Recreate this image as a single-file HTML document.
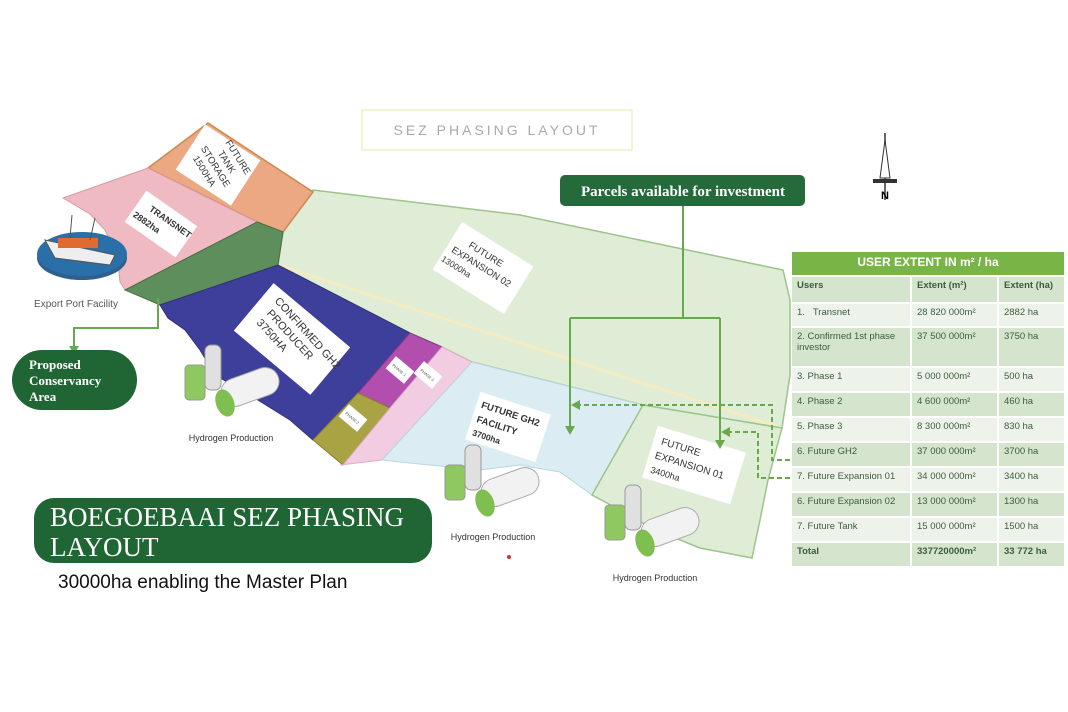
<!DOCTYPE html>
<html><head><meta charset="utf-8"><style>
body{margin:0;width:1068px;height:712px;background:#fff;overflow:hidden;font-family:"Liberation Sans",sans-serif}
svg{position:absolute;left:0;top:0}
table{position:absolute;left:790px;top:250px;width:276px;border-collapse:separate;border-spacing:2px;font-size:9.5px;color:#3d5c3d}
td{padding:3px 5px;vertical-align:top}
</style></head><body>
<svg width="1068" height="712" viewBox="0 0 1068 712">
<polygon points="313,190 520,215 783,270 790,300 790,375 782,428 643,405 472,362 442,347 410,333 278,265 283,232" fill="#dfedd6" stroke="#9cc48c" stroke-width="1.5"/>
<line x1="278" y1="265" x2="782" y2="428" stroke="#f4ecc0" stroke-width="3"/>
<polygon points="208,123 313,192 283,232 257,222 148,168" fill="#eba883" stroke="#c98a50" stroke-width="1.5"/>
<polygon points="63,198 148,168 257,222 125,290 120,282 118,262 112,245 105,230 90,214" fill="#f0bac2" stroke="#d89aa5" stroke-width="1"/>
<polygon points="257,222 283,232 278,265 160,305 125,290" fill="#5e8e5c" stroke="#486e46"/>
<polygon points="160,305 278,265 410,333 358,393 313,440 290,420 250,395 215,375 200,350 185,330 168,318" fill="#3e3f9b" stroke="#30307a"/>
<polygon points="410,333 442,347 390,408 358,393" fill="#b24ead" stroke="#8a3a88"/>
<polygon points="358,393 390,408 343,465 313,440" fill="#a9a344" stroke="#85802f"/>
<polygon points="442,347 472,362 382,460 340,465 343,465 390,408" fill="#f2cde2" stroke="#dcaccb"/>
<polygon points="472,362 643,405 592,495 560,472 520,465 480,470 440,466 400,462 382,460" fill="#dbecf2" stroke="#b8d6e0"/>
<polygon points="643,405 782,428 768,480 760,520 752,558 700,548 655,530 620,510 592,495" fill="#dfedd6" stroke="#9cc48c" stroke-width="1.5"/>
<g transform="translate(218,165) rotate(33)"><rect x="-33" y="-27" width="66" height="54" fill="#fff"/>
<text font-size="9.5" fill="#333" text-anchor="middle" transform="rotate(25)"><tspan x="4" y="-18">FUTURE</tspan><tspan x="2" y="-6">TANK</tspan><tspan x="0" y="6">STORAGE</tspan><tspan x="-2" y="18">1500HA</tspan></text></g>
<g transform="translate(161,224) rotate(35)"><rect x="-31" y="-19" width="62" height="38" fill="#fff"/>
<text font-size="9" font-weight="bold" fill="#333"><tspan x="-18" y="-4">TRANSNET</tspan><tspan x="-28" y="10">2882ha</tspan></text></g>
<g transform="translate(292,339) rotate(40)"><rect x="-50" y="-31" width="100" height="62" fill="#fff"/>
<text font-size="11" fill="#333" transform="rotate(8)"><tspan x="-40" y="-12">CONFIRMED GH2</tspan><tspan x="-36" y="2">PRODUCER</tspan><tspan x="-36" y="16">3750HA</tspan></text></g>
<g transform="translate(483,268) rotate(32)"><rect x="-42" y="-28" width="84" height="56" fill="#fff"/>
<text font-size="9.5" fill="#333"><tspan x="-24" y="-10">FUTURE</tspan><tspan x="-36" y="3">EXPANSION 02</tspan><tspan x="-40" y="16" font-size="8.5">13000ha</tspan></text></g>
<g transform="translate(508,427) rotate(18)"><rect x="-37" y="-25" width="74" height="50" fill="#fff"/>
<text font-size="9.5" font-weight="bold" fill="#333"><tspan x="-32" y="-10">FUTURE GH2</tspan><tspan x="-32" y="5">FACILITY</tspan><tspan x="-32" y="19" font-size="8.5">3700ha</tspan></text></g>
<g transform="translate(694,465) rotate(17)"><rect x="-46" y="-27" width="92" height="54" fill="#fff"/>
<text font-size="10" fill="#333"><tspan x="-38" y="-10">FUTURE</tspan><tspan x="-40" y="5">EXPANSION 01</tspan><tspan x="-40" y="20" font-size="9">3400ha</tspan></text></g>
<g transform="translate(400,370) rotate(40)"><rect x="-12" y="-8" width="24" height="16" fill="#fff"/><text x="-9" y="2" font-size="4" fill="#555">PHASE 1</text></g>
<g transform="translate(428,375) rotate(40)"><rect x="-12" y="-8" width="24" height="16" fill="#fff"/><text x="-9" y="2" font-size="4" fill="#555">PHASE 3</text></g>
<g transform="translate(353,418) rotate(40)"><rect x="-12" y="-8" width="24" height="16" fill="#fff"/><text x="-9" y="2" font-size="4" fill="#555">PHASE 2</text></g>
<rect x="362" y="110" width="270" height="40" fill="#fff" stroke="#f0efc8" stroke-width="1.5"/>
<text x="497" y="135" font-size="14" fill="#aaa" text-anchor="middle" letter-spacing="3">SEZ PHASING LAYOUT</text>
<line x1="885" y1="133" x2="885" y2="200" stroke="#333" stroke-width="1.5"/>
<polygon points="885,140 880,178 890,178" fill="#fff" stroke="#333"/>
<rect x="873" y="179" width="24" height="4" fill="#333"/>
<text x="885" y="199" font-size="11" font-weight="bold" text-anchor="middle">N</text>
<rect x="560" y="175" width="245" height="31" rx="5" fill="#246a3a"/>
<text x="683" y="196" font-size="15" font-weight="bold" fill="#fff" text-anchor="middle" font-family="Liberation Serif">Parcels available for investment</text>
<g stroke="#6aa84f" stroke-width="2" fill="none">
<polyline points="683,206 683,318"/><polyline points="570,318 720,318"/>
<polyline points="570,318 570,428"/><polyline points="720,318 720,442"/>
<polyline points="158,298 158,328 74,328 74,348"/>
<polyline points="790,460 772,460 772,405 578,405" stroke-dasharray="5,3"/>
<polyline points="790,478 758,478 758,432 728,432" stroke-dasharray="5,3"/>
</g>
<g fill="#6aa84f">
<polygon points="565,426 575,426 570,435"/><polygon points="715,440 725,440 720,449"/>
<polygon points="69,346 79,346 74,354"/><polygon points="580,400 580,410 571,405"/><polygon points="730,427 730,437 721,432"/>
</g>
<rect x="12" y="350" width="125" height="60" rx="30" fill="#1f6634"/>
<text font-size="13" font-weight="bold" fill="#fff" font-family="Liberation Serif"><tspan x="29" y="369">Proposed</tspan><tspan x="29" y="385">Conservancy</tspan><tspan x="29" y="401">Area</tspan></text>
<ellipse cx="82" cy="258" rx="45" ry="22" fill="#2f5f8e"/>
<ellipse cx="82" cy="254" rx="45" ry="22" fill="#2a6fa8"/>
<polygon points="45,240 115,255 110,265 55,258" fill="#eee" stroke="#555"/>
<rect x="58" y="238" width="40" height="10" fill="#e06a30"/>
<line x1="70" y1="238" x2="72" y2="215" stroke="#555"/><line x1="90" y1="240" x2="95" y2="218" stroke="#555"/>
<text x="76" y="307" font-size="10" fill="#555" text-anchor="middle">Export Port Facility</text>
<g transform="translate(185,345)">
<rect x="0" y="20" width="20" height="35" rx="4" fill="#8fc860" stroke="#999"/>
<rect x="20" y="0" width="16" height="45" rx="6" fill="#e0e0e0" stroke="#999"/>
<rect x="35" y="28" width="60" height="28" rx="14" fill="#f2f2f2" stroke="#aaa" transform="rotate(-20 65 42)"/>
<ellipse cx="40" cy="58" rx="9" ry="14" fill="#7fbf50" transform="rotate(-20 40 58)"/>
</g>
<text x="231" y="441" font-size="9" fill="#333" text-anchor="middle">Hydrogen Production</text>
<g transform="translate(445,445)">
<rect x="0" y="20" width="20" height="35" rx="4" fill="#8fc860" stroke="#999"/>
<rect x="20" y="0" width="16" height="45" rx="6" fill="#e0e0e0" stroke="#999"/>
<rect x="35" y="28" width="60" height="28" rx="14" fill="#f2f2f2" stroke="#aaa" transform="rotate(-20 65 42)"/>
<ellipse cx="40" cy="58" rx="9" ry="14" fill="#7fbf50" transform="rotate(-20 40 58)"/>
</g>
<text x="493" y="540" font-size="9" fill="#333" text-anchor="middle">Hydrogen Production</text>
<circle cx="509" cy="557" r="2" fill="#c33"/>
<g transform="translate(605,485)">
<rect x="0" y="20" width="20" height="35" rx="4" fill="#8fc860" stroke="#999"/>
<rect x="20" y="0" width="16" height="45" rx="6" fill="#e0e0e0" stroke="#999"/>
<rect x="35" y="28" width="60" height="28" rx="14" fill="#f2f2f2" stroke="#aaa" transform="rotate(-20 65 42)"/>
<ellipse cx="40" cy="58" rx="9" ry="14" fill="#7fbf50" transform="rotate(-20 40 58)"/>
</g>
<text x="655" y="581" font-size="9" fill="#333" text-anchor="middle">Hydrogen Production</text>
<rect x="34" y="498" width="398" height="65" rx="20" fill="#1f6634"/>
<text font-size="27" font-family="Liberation Serif" fill="#fff"><tspan x="50" y="526">BOEGOEBAAI SEZ PHASING</tspan><tspan x="50" y="556">LAYOUT</tspan></text>
<text x="58" y="588" font-size="19" fill="#111">30000ha enabling the Master Plan</text>
</svg>
<table>
<tr><td colspan="3" style="background:#78b446;color:#fff;text-align:center;font-weight:bold;font-size:12px;height:17px">USER EXTENT IN m² / ha</td></tr>
<tr style="background:#d5e4cd;font-weight:bold"><td style="width:108px;height:19px">Users</td><td style="width:75px">Extent (m²)</td><td>Extent (ha)</td></tr>
<tr style="background:#edf3ea"><td style="height:16px">1.&nbsp;&nbsp;&nbsp;Transnet</td><td>28 820 000m²</td><td>2882 ha</td></tr>
<tr style="background:#d5e4cd"><td style="height:32px">2. Confirmed 1st phase investor</td><td>37 500 000m²</td><td>3750 ha</td></tr>
<tr style="background:#edf3ea"><td style="height:17px">3. Phase 1</td><td>5 000 000m²</td><td>500 ha</td></tr>
<tr style="background:#d5e4cd"><td style="height:17px">4. Phase 2</td><td>4 600 000m²</td><td>460 ha</td></tr>
<tr style="background:#edf3ea"><td style="height:17px">5. Phase 3</td><td>8 300 000m²</td><td>830 ha</td></tr>
<tr style="background:#d5e4cd"><td style="height:17px">6. Future GH2</td><td>37 000 000m²</td><td>3700 ha</td></tr>
<tr style="background:#edf3ea"><td style="height:17px">7. Future Expansion 01</td><td>34 000 000m²</td><td>3400 ha</td></tr>
<tr style="background:#d5e4cd"><td style="height:17px">6. Future Expansion 02</td><td>13 000 000m²</td><td>1300 ha</td></tr>
<tr style="background:#edf3ea"><td style="height:17px">7. Future Tank</td><td>15 000 000m²</td><td>1500 ha</td></tr>
<tr style="background:#d5e4cd;font-weight:bold"><td style="height:17px">Total</td><td>337720000m²</td><td>33 772 ha</td></tr>
</table>
</body></html>
